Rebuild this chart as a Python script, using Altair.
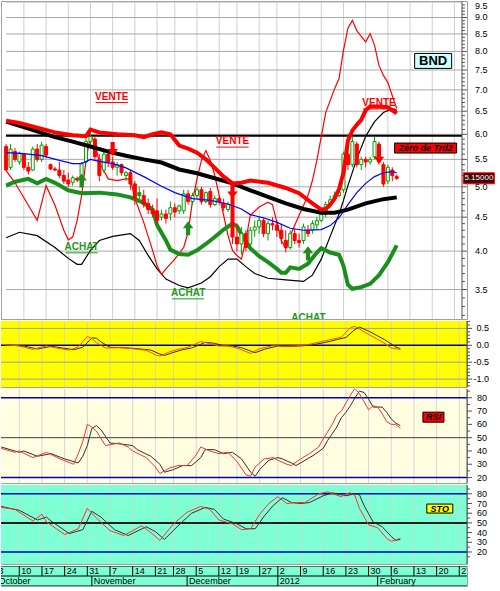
import math
import altair as alt
import pandas as pd

FONT = "Liberation Sans"
RED = "#ff0000"
GREEN_C = "#00a000"
GREEN_L = "#1b8f1b"
BLUE = "#0000ff"

# ---------------- calendar: one slot per trading session, Mon 3 Oct 2011 = slot 0
WEEK_SLOT = [0, 5, 10, 15, 20, 25, 30, 35, 39, 44, 49, 53, 58, 62, 67, 72, 77, 82, 87, 92, 97, 102]
WEEK_DAY = ["3", "10", "17", "24", "31", "7", "14", "21", "28", "5", "12", "19",
            "27", "2", "9", "16", "23", "30", "6", "13", "20", "27"]
MONTH_SLOT = [0, 21, 42, 62, 84]
MONTH_NAME = ["October", "November", "December", "2012", "February"]
X_DOMAIN = [0.97, 103.7]
PANEL_W = 466
PX = PANEL_W / (X_DOMAIN[1] - X_DOMAIN[0])  # pixels per session

# ---------------- daily candles (slot 1 .. 89)
SLOT = list(range(1, 90))
OPEN = [5.75, 5.35, 5.65, 5.45, 5.60, 5.35, 5.30, 5.70, 5.50, 5.75,
        5.40, 5.32, 5.30, 5.20, 5.12, 5.08, 5.15, 5.15, 5.45, 5.85,
        5.90, 5.50, 5.30, 5.60, 5.45, 5.35, 5.40, 5.20, 5.25, 5.05,
        4.90, 4.85, 4.72, 4.62, 4.60, 4.50, 4.55, 4.55, 4.65, 4.60,
        4.60, 4.88, 4.75, 4.85, 4.95, 4.75, 4.92, 4.70, 4.80, 4.72,
        4.62, 4.85, 4.20, 4.10, 4.25, 4.10, 4.30, 4.35, 4.45, 4.25,
        4.40, 4.38, 4.30, 4.15, 4.05, 4.25, 4.15, 4.15, 4.30, 4.30,
        4.38, 4.45, 4.55, 4.70, 4.80, 4.85, 4.95, 5.60, 5.40, 5.80,
        5.40, 5.50, 5.45, 5.55, 5.80, 5.40, 5.10, 5.30, 5.18]
HIGH = [5.80, 5.80, 5.72, 5.65, 5.62, 5.45, 5.75, 5.80, 5.85, 5.80,
        5.42, 5.36, 5.45, 5.30, 5.25, 5.20, 5.18, 5.45, 5.92, 6.05,
        5.95, 5.60, 5.70, 5.65, 5.55, 5.45, 5.42, 5.28, 5.30, 5.10,
        5.00, 4.95, 4.80, 4.70, 4.80, 4.62, 4.62, 4.75, 4.72, 4.70,
        4.95, 4.95, 4.90, 5.00, 5.00, 4.92, 4.98, 4.85, 4.85, 4.80,
        4.75, 4.90, 4.40, 4.35, 4.30, 4.35, 4.45, 4.50, 4.48, 4.45,
        4.50, 4.45, 4.40, 4.30, 4.30, 4.32, 4.25, 4.40, 4.38, 4.45,
        4.50, 4.60, 4.75, 4.85, 4.92, 4.95, 5.65, 6.00, 5.95, 5.85,
        5.55, 5.55, 5.55, 5.95, 5.85, 5.45, 5.40, 5.35, 5.22]
LOW = [5.28, 5.30, 5.45, 5.40, 5.30, 5.22, 5.28, 5.45, 5.45, 5.52,
       5.30, 5.28, 5.15, 5.05, 5.00, 5.02, 5.08, 5.12, 5.42, 5.80,
       5.50, 5.10, 5.25, 5.35, 5.30, 5.20, 5.20, 5.10, 4.95, 4.70,
       4.75, 4.65, 4.55, 4.50, 4.40, 4.45, 4.40, 4.45, 4.50, 4.55,
       4.55, 4.70, 4.70, 4.80, 4.70, 4.72, 4.65, 4.68, 4.70, 4.60,
       4.58, 4.10, 4.00, 3.95, 4.00, 4.05, 4.20, 4.25, 4.20, 4.15,
       4.30, 4.20, 4.10, 3.98, 4.02, 4.10, 4.05, 4.10, 4.20, 4.25,
       4.30, 4.42, 4.50, 4.65, 4.75, 4.82, 4.90, 5.30, 5.35, 5.35,
       5.30, 5.35, 5.40, 5.50, 5.40, 5.00, 5.05, 5.10, 5.12]
CLOSE = [5.30, 5.70, 5.50, 5.62, 5.35, 5.28, 5.70, 5.50, 5.78, 5.58,
         5.32, 5.30, 5.20, 5.10, 5.05, 5.16, 5.12, 5.42, 5.85, 5.95,
         5.55, 5.20, 5.60, 5.45, 5.35, 5.40, 5.25, 5.25, 5.05, 4.80,
         4.85, 4.70, 4.62, 4.55, 4.45, 4.55, 4.48, 4.65, 4.58, 4.68,
         4.88, 4.75, 4.85, 4.95, 4.75, 4.90, 4.70, 4.80, 4.75, 4.65,
         4.70, 4.20, 4.10, 4.25, 4.05, 4.30, 4.35, 4.45, 4.25, 4.40,
         4.38, 4.30, 4.18, 4.05, 4.25, 4.15, 4.12, 4.35, 4.25, 4.40,
         4.45, 4.55, 4.70, 4.78, 4.85, 4.90, 5.60, 5.40, 5.85, 5.40,
         5.50, 5.45, 5.50, 5.85, 5.45, 5.05, 5.35, 5.20, 5.15]

# ---------------- price-panel overlays (slot, price)
THICK_RED_S = [1, 4, 8, 12, 16, 19, 20, 22, 26, 30, 32, 34, 36, 38, 40, 42, 44, 46, 48, 50,
               52, 54, 56, 60, 64, 67, 70, 72, 73, 74, 75, 76, 77, 78, 79, 80, 81, 82, 83, 85,
               87, 88, 89]
THICK_RED_V = [6.29, 6.24, 6.14, 6.04, 5.98, 5.96, 6.10, 6.04, 6.00, 5.98, 5.94, 6.00, 6.04, 6.00,
               5.77, 5.71, 5.63, 5.50, 5.34, 5.18, 5.06, 5.07, 5.11, 5.07, 4.98, 4.89, 4.72, 4.62,
               4.63, 4.70, 4.80, 4.96, 5.25, 5.87, 6.08, 6.20, 6.31, 6.52, 6.61, 6.61, 6.59, 6.52,
               6.45]
THICK_BLK_S = [1, 8, 12, 16, 20, 24, 28, 32, 36, 40, 44, 48, 52, 56, 60, 64, 68, 72, 75, 78,
               82, 86, 89]
THICK_BLK_V = [6.27, 6.06, 5.94, 5.85, 5.75, 5.65, 5.57, 5.50, 5.44, 5.31, 5.24, 5.15, 5.06,
               4.94, 4.83, 4.72, 4.63, 4.57, 4.57, 4.62, 4.72, 4.79, 4.82]
GREEN_S = [1, 3, 6, 8, 10, 12, 15, 18, 22, 26, 29, 32, 34, 35, 37, 38, 40, 42, 44, 46,
           48, 50, 52, 53, 54, 56, 58, 60, 62, 63, 64, 65, 67, 69, 71, 72, 74, 76, 77, 78,
           79, 81, 83, 85, 87, 89]
GREEN_V = [5.02, 5.09, 5.14, 5.06, 5.14, 5.07, 4.94, 4.89, 4.90, 4.87, 4.82, 4.73, 4.62, 4.38,
           4.15, 4.02, 3.96, 3.95, 4.01, 4.10, 4.20, 4.31, 4.40, 4.36, 4.24, 4.04, 3.93, 3.85,
           3.76, 3.71, 3.71, 3.78, 3.76, 3.83, 3.98, 4.04, 3.98, 3.95, 3.80, 3.56, 3.51, 3.53,
           3.57, 3.68, 3.85, 4.08]
THIN_BLK_S = [1, 4, 8, 12, 15, 17, 18, 20, 22, 25, 29, 31, 33, 35, 37, 40, 42, 45, 47, 49,
              51, 53, 55, 57, 60, 64, 68, 70, 72, 74, 76, 77, 78, 80, 82, 84, 86, 88, 89]
THIN_BLK_V = [4.19, 4.27, 4.22, 4.05, 3.90, 3.82, 3.82, 4.01, 4.15, 4.21, 4.25, 4.15, 3.94, 3.76,
              3.63, 3.55, 3.52, 3.58, 3.66, 3.79, 3.89, 3.89, 3.79, 3.70, 3.64, 3.62, 3.60, 3.68,
              3.89, 4.21, 4.55, 4.77, 5.02, 5.51, 5.96, 6.27, 6.47, 6.56, 6.52]
BLUE_S = [1, 5, 9, 13, 16, 18, 20, 22, 25, 28, 32, 36, 39, 43, 47, 51, 54, 56, 59, 62,
          65, 68, 72, 74, 76, 78, 80, 82, 84, 86, 88, 89]
BLUE_V = [5.63, 5.61, 5.57, 5.48, 5.42, 5.42, 5.50, 5.46, 5.42, 5.34, 5.18, 5.01, 4.90, 4.80,
          4.77, 4.71, 4.63, 4.54, 4.49, 4.42, 4.33, 4.30, 4.31, 4.37, 4.49, 4.70, 4.90, 5.06,
          5.18, 5.25, 5.27, 5.25]
THIN_RED_S = [1, 3, 6, 8, 10, 12, 14, 15, 16, 17, 18, 19, 20, 21, 22, 24, 26, 28, 29, 30,
              32, 34, 35, 36, 37, 39, 41, 42, 43, 44, 45, 46, 47, 48, 49, 50, 51, 52, 53, 54,
              55, 56, 58, 60, 61, 62, 63, 64, 65, 67, 69, 70, 71, 73, 75, 76, 77, 78, 79, 80,
              81, 82, 83, 84, 85, 86, 87, 88, 89]
THIN_RED_V = [5.29, 5.07, 4.69, 4.45, 5.02, 4.69, 4.30, 4.16, 4.20, 4.45, 4.85, 5.48, 5.98, 5.83,
              5.44, 5.14, 5.11, 5.14, 5.14, 4.80, 4.42, 4.01, 3.80, 3.69, 3.76, 3.89, 4.05, 4.27,
              4.77, 5.14, 5.48, 5.67, 5.48, 5.20, 4.85, 4.53, 4.22, 4.01, 3.94, 3.89, 4.15, 4.53,
              4.66, 4.74, 4.70, 4.42, 4.15, 4.04, 4.22, 4.53, 4.85, 5.11, 5.48, 6.47, 7.03, 7.28,
              8.03, 8.67, 8.91, 8.60, 8.43, 8.27, 8.51, 8.17, 7.62, 7.36, 7.18, 6.86, 6.56]
ZERO_TRD2 = 5.97
LAST_PRICE = 5.15

# signals
BUY_S = [18, 42, 69]
BUY_V = [5.11, 4.33, 3.97]
SELL_S = [25, 52, 85]
SELL_V = [5.70, 4.92, 5.55]
VENTE_S = [24.8, 52.0, 85.0]
VENTE_V = [6.84, 5.86, 6.69]
ACHAT_S = [18.0, 42.0, 69.1]
ACHAT_V = [4.06, 3.46, 3.17]

# ---------------- MACD
MACD_RED_S = [1, 5, 8, 10, 11, 14, 16, 18, 20, 21, 22, 24, 27, 30, 33, 35, 36, 38, 40, 42,
              44, 45, 47, 49, 51, 53, 56, 58, 61, 63, 66, 69, 72, 74, 76, 78, 79, 81, 83, 85,
              87, 89]
MACD_RED_V = [0.03, -0.02, -0.12, -0.05, -0.02, -0.10, -0.14, -0.05, 0.26, 0.20, 0.08, -0.08,
              -0.07, -0.10, -0.15, -0.28, -0.32, -0.20, -0.12, -0.07, 0.05, 0.11, 0.05, -0.02,
              -0.02, -0.08, -0.24, -0.10, -0.01, -0.03, -0.02, 0.03, 0.12, 0.18, 0.24, 0.52,
              0.56, 0.40, 0.25, 0.10, -0.08, -0.12]
MACD_BLK_S = [1, 6, 9, 11, 12, 15, 17, 19, 21, 22, 23, 25, 28, 31, 34, 36, 37, 39, 41, 43,
              45, 46, 48, 50, 52, 54, 57, 59, 62, 64, 67, 70, 73, 75, 77, 79, 80, 82, 84, 86,
              88, 89]
MACD_BLK_V = [0.02, -0.02, -0.11, -0.06, -0.03, -0.09, -0.13, -0.06, 0.22, 0.21, 0.10, -0.06,
              -0.07, -0.10, -0.14, -0.26, -0.30, -0.21, -0.13, -0.08, 0.03, 0.09, 0.06, -0.01,
              -0.02, -0.07, -0.22, -0.12, -0.02, -0.03, -0.02, 0.02, 0.10, 0.17, 0.23, 0.47,
              0.54, 0.42, 0.28, 0.13, -0.05, -0.10]

# ---------------- RSI
RSI_RED_S = [1, 4, 5, 8, 11, 14, 17, 18, 19, 20, 21, 22, 24, 27, 29, 30, 33, 35, 36, 38,
             40, 42, 44, 45, 47, 49, 51, 53, 55, 56, 57, 59, 61, 62, 64, 65, 67, 69, 71, 72,
             74, 75, 76, 77, 78, 79, 80, 81, 82, 83, 84, 85, 86, 87, 88, 89]
RSI_RED_V = [42, 39, 40, 35, 39, 34, 30, 38, 47, 60, 58, 55, 44, 46, 43, 40, 35, 28, 23, 27,
             29, 29, 37, 43, 40, 38, 39, 32, 22, 21, 28, 34, 35, 33, 30, 29, 34, 38, 43, 49,
             60, 67, 70, 76, 82, 87, 83, 77, 71, 74, 73, 68, 62, 60, 60, 57]
RSI_BLK_S = [1, 5, 6, 9, 12, 15, 18, 19, 20, 21, 22, 23, 25, 28, 30, 31, 34, 36, 37, 39,
             41, 43, 45, 46, 48, 50, 52, 54, 56, 57, 58, 60, 62, 63, 65, 66, 68, 70, 72, 73,
             75, 76, 77, 78, 79, 80, 81, 82, 83, 84, 85, 86, 87, 88, 89]
RSI_BLK_V = [43, 39, 40, 36, 38, 34, 31, 36, 44, 57, 59, 56, 46, 45, 44, 41, 36, 30, 24, 26,
             29, 29, 35, 41, 41, 38, 39, 34, 24, 21, 26, 33, 35, 34, 31, 29, 33, 37, 42, 48,
             58, 65, 69, 74, 80, 85, 84, 79, 73, 73, 73, 69, 64, 61, 59]

# ---------------- Stochastic
STO_RED_S = [1, 4, 8, 10, 11, 15, 18, 20, 22, 25, 28, 32, 34, 36, 39, 42, 45, 47, 49, 52,
             54, 56, 58, 60, 62, 64, 66, 68, 71, 73, 76, 77, 78, 79, 80, 82, 84, 86, 87, 89]
STO_RED_V = [66, 64, 52, 59, 51, 38, 44, 65, 55, 42, 37, 47, 40, 32, 49, 61, 67, 64, 53, 49,
             43, 44, 59, 70, 77, 70, 71, 71, 80, 82, 77, 80, 81, 78, 65, 48, 45, 34, 31, 34]
STO_BLK_S = [1, 5, 9, 11, 12, 16, 19, 21, 23, 26, 29, 33, 35, 37, 40, 43, 46, 48, 50, 53,
             55, 57, 59, 61, 63, 65, 67, 69, 72, 74, 77, 78, 79, 80, 81, 83, 85, 87, 88, 89]
STO_BLK_V = [67, 63, 53, 56, 52, 39, 43, 62, 56, 43, 37, 46, 41, 33, 47, 60, 66, 64, 54, 49,
             44, 44, 57, 68, 76, 71, 70, 71, 78, 81, 78, 79, 80, 79, 68, 51, 46, 36, 32, 33]

# ---------------- right-hand scales: tick values and their printed labels
PRICE_TICKS = [3.5, 4.0, 4.5, 5.0, 5.5, 6.0, 6.5, 7.0, 7.5, 8.0, 8.5, 9.0]
PRICE_LABELS = ["3.5", "4.0", "4.5", "5.0", "5.5", "6.0", "6.5", "7.0", "7.5", "8.0", "8.5", "9.0"]
PRICE_TOP_TICK = 9.5
PRICE_TOP_LABEL = "9.5"
PRICE_MINOR = [x / 10 for x in range(32, 96) if x % 5]
MACD_TICKS = [0.5, 0.0, -0.5, -1.0]
MACD_LABELS = ["0.5", "0.0", "-0.5", "-1.0"]
MACD_MINOR = [x / 10 for x in range(-12, 8) if x % 5]
OSC_TICKS = [20, 30, 40, 50, 60, 70, 80]
OSC_LABELS = ["20", "30", "40", "50", "60", "70", "80"]
RSI_MINOR = [x for x in range(20, 90, 5) if x % 10]
STO_MINOR = [x for x in range(10, 90, 5) if x % 10]

# ---------------- scales (the price panel is plotted on natural-log prices)
PRICE_DOM = [math.log(3.16), math.log(9.53)]
MACD_DOM = [-1.234, 0.719]
RSI_DOM = [15.9, 86.6]
STO_DOM = [7.6, 89.1]
ROWS_DOM = [0, 2]


def sc(dom):
    return alt.Scale(domain=dom, nice=False, zero=False)


XS = sc(X_DOMAIN)


def xenc(field="slot"):
    return alt.X(f"{field}:Q", scale=XS, axis=None)


def src(df, log):
    """Chart on df whose plotted y field is 'v' (or its log for the price panel)."""
    ch = alt.Chart(df)
    if log:
        return ch.transform_calculate(yv="log(datum.v)"), "yv"
    return ch, "v"


def yenc(field, dom):
    return alt.Y(f"{field}:Q", scale=sc(dom), axis=None)


def backdrop(color, dom):
    df = pd.DataFrame({"x0": [X_DOMAIN[0]], "x1": [X_DOMAIN[1]], "lo": [dom[0]], "hi": [dom[1]]})
    return alt.Chart(df).mark_rect(color=color, opacity=1).encode(
        x=xenc("x0"), x2="x1:Q", y=yenc("lo", dom), y2="hi:Q")


def week_grid(color, dom):
    slots = [s for s in WEEK_SLOT if s > X_DOMAIN[0]]
    df = pd.DataFrame({"slot": slots, "lo": dom[0], "hi": dom[1]})
    return alt.Chart(df).mark_rule(color=color, strokeWidth=1, clip=True).encode(
        x=xenc(), y=yenc("lo", dom), y2="hi:Q")


def level(values, color, width, dom, log=False):
    df = pd.DataFrame({"v": values, "x0": X_DOMAIN[0], "x1": X_DOMAIN[1]})
    ch, f = src(df, log)
    return ch.mark_rule(color=color, strokeWidth=width, clip=True).encode(
        x=xenc("x0"), x2="x1:Q", y=yenc(f, dom))


def curve(slots, vals, color, width, dom, log=False):
    df = pd.DataFrame({"slot": slots, "v": vals})
    ch, f = src(df, log)
    return ch.mark_line(color=color, strokeWidth=width, clip=True).encode(
        x=xenc(), y=yenc(f, dom))


def right_scale(ticks, labels, minor, dom, label_px, log=False):
    """Axis line, major/minor ticks and labels on the right edge of a panel."""
    edge = X_DOMAIN[1]
    out = []
    spine = pd.DataFrame({"slot": [edge], "lo": [dom[0]], "hi": [dom[1]]})
    out.append(alt.Chart(spine).mark_rule(color="#505050", strokeWidth=1).encode(
        x=xenc(), y=yenc("lo", dom), y2="hi:Q"))
    minor_df = pd.DataFrame({"v": minor, "a": edge, "b": edge + 3 / PX})
    ch, f = src(minor_df, log)
    out.append(ch.mark_rule(color="#505050", strokeWidth=1).encode(
        x=xenc("a"), x2="b:Q", y=yenc(f, dom)))
    major_df = pd.DataFrame({"v": ticks, "t": labels, "a": edge, "b": edge + 5 / PX,
                             "lab": edge + (label_px - PANEL_W) / PX})
    ch, f = src(major_df, log)
    out.append(ch.mark_rule(color="#505050", strokeWidth=1).encode(
        x=xenc("a"), x2="b:Q", y=yenc(f, dom)))
    out.append(ch.mark_text(font=FONT, fontSize=9, color="#000000", align="right",
                            baseline="middle").encode(
        x=xenc("lab"), y=yenc(f, dom), text="t:N"))
    return out


def box_path(w, h):
    r = h / w
    return f"M-1,{-r:.4f}L1,{-r:.4f}L1,{r:.4f}L-1,{r:.4f}Z"


def tag(slot, value, text, dom, w, h, fill, stroke, tcolor, size, weight="bold",
        style="normal", log=False):
    df = pd.DataFrame({"slot": [slot], "v": [value], "t": [text]})
    ch, f = src(df, log)
    enc = dict(x=xenc(), y=yenc(f, dom))
    box = ch.mark_point(shape=box_path(w, h), size=w * w, filled=True, fill=fill,
                        stroke=stroke, strokeWidth=1, opacity=1).encode(**enc)
    txt = ch.mark_text(font=FONT, fontSize=size, fontWeight=weight, fontStyle=style,
                       color=tcolor, baseline="middle").encode(text="t:N", **enc)
    return [box, txt]


# ---------------- price panel
candles = pd.DataFrame({"slot": SLOT, "o": OPEN, "h": HIGH, "l": LOW, "c": CLOSE})
prev_close = candles["c"].shift(1).fillna(candles["o"])
candles["ink"] = [GREEN_C if c >= p else RED for c, p in zip(candles["c"], prev_close)]
candles["paint"] = ["#ffffff" if c > o else k
                    for c, o, k in zip(candles["c"], candles["o"], candles["ink"])]
cbase = alt.Chart(candles).transform_calculate(
    lo="log(datum.o)", lh="log(datum.h)", ll="log(datum.l)", lc="log(datum.c)")
wicks = cbase.mark_rule(strokeWidth=1, clip=True).encode(
    x=xenc(), y=yenc("ll", PRICE_DOM), y2="lh:Q",
    color=alt.Color("ink:N", scale=None))
bodies = cbase.mark_bar(size=3, strokeWidth=1, clip=True).encode(
    x=xenc(), y=yenc("lo", PRICE_DOM), y2="lc:Q",
    fill=alt.Fill("paint:N", scale=None),
    stroke=alt.Stroke("ink:N", scale=None))

UP_ARROW = "M-0.3,1L0.3,1L0.3,0L0.75,0L0,-1L-0.75,0L-0.3,0Z"
DOWN_ARROW = "M-0.3,-1L0.3,-1L0.3,0L0.75,0L0,1L-0.75,0L-0.3,0Z"


def arrows(slots, vals, shape, color):
    ch, f = src(pd.DataFrame({"slot": slots, "v": vals}), True)
    return ch.mark_point(shape=shape, filled=True, size=196, color=color, opacity=1).encode(
        x=xenc(), y=yenc(f, PRICE_DOM))


def signal_words(slots, vals, word, color):
    half = 16.5 / PX  # half the printed word width
    df = pd.DataFrame({"slot": slots, "v": vals, "t": [word] * len(slots)})
    df["a"] = df["slot"] - half
    df["b"] = df["slot"] + half
    ch, f = src(df, True)
    txt = ch.mark_text(font=FONT, fontSize=10, fontWeight="bold", color=color,
                       baseline="middle", clip=True).encode(
        x=xenc(), y=yenc(f, PRICE_DOM), text="t:N")
    line = ch.mark_rule(color=color, strokeWidth=1, yOffset=6, clip=True).encode(
        x=xenc("a"), x2="b:Q", y=yenc(f, PRICE_DOM))
    return [txt, line]


top_df = pd.DataFrame({"v": [PRICE_TOP_TICK], "t": [PRICE_TOP_LABEL],
                       "lab": [X_DOMAIN[1] + 26 / PX]})
top_ch, top_f = src(top_df, True)
top_label = top_ch.mark_text(font=FONT, fontSize=9, color="#000000", align="right",
                             baseline="top").encode(
    x=xenc("lab"), y=yenc(top_f, PRICE_DOM), text="t:N")

main = alt.layer(
    week_grid("#cfcfcf", PRICE_DOM),
    level(PRICE_TICKS + [PRICE_TOP_TICK], "#a8a8a8", 1, PRICE_DOM, log=True),
    level([ZERO_TRD2], "#000000", 2, PRICE_DOM, log=True),
    curve(THIN_BLK_S, THIN_BLK_V, "#000000", 1.2, PRICE_DOM, log=True),
    curve(THIN_RED_S, THIN_RED_V, RED, 1.2, PRICE_DOM, log=True),
    curve(GREEN_S, GREEN_V, GREEN_L, 4, PRICE_DOM, log=True),
    wicks, bodies,
    curve(BLUE_S, BLUE_V, BLUE, 1.2, PRICE_DOM, log=True),
    curve(THICK_BLK_S, THICK_BLK_V, "#000000", 4, PRICE_DOM, log=True),
    curve(THICK_RED_S, THICK_RED_V, RED, 4, PRICE_DOM, log=True),
    arrows(BUY_S, BUY_V, UP_ARROW, GREEN_L),
    arrows(SELL_S, SELL_V, DOWN_ARROW, RED),
    *signal_words(VENTE_S, VENTE_V, "VENTE", RED),
    *signal_words(ACHAT_S, ACHAT_V, "ACHAT", "#1a9a1a"),
    *tag(97.2, 7.74, "BND", PRICE_DOM, 37, 15, "#ccffff", "#000000", "#000000", 13, log=True),
    *tag(95.5, 5.72, "Zéro de Trd2", PRICE_DOM, 62, 10, RED, "#000000", "#000000", 9,
         style="italic", log=True),
    *right_scale(PRICE_TICKS, PRICE_LABELS, PRICE_MINOR, PRICE_DOM, 492, log=True),
    top_label,
    *tag(107.5, LAST_PRICE, "5.15000", PRICE_DOM, 31, 11, "#400000", RED, "#ffffff", 8,
         weight="normal", log=True),
).properties(width=PANEL_W, height=318)

# ---------------- MACD panel
macd = alt.layer(
    backdrop("#ffff00", MACD_DOM),
    week_grid("#d8d8a0", MACD_DOM),
    level([0.5, -0.5, -1.0], "#a0a0a0", 1, MACD_DOM),
    level([0.0], "#0000c0", 1.5, MACD_DOM),
    curve(MACD_BLK_S, MACD_BLK_V, "#303030", 1, MACD_DOM),
    curve(MACD_RED_S, MACD_RED_V, "#ff5000", 1, MACD_DOM),
    *right_scale(MACD_TICKS, MACD_LABELS, MACD_MINOR, MACD_DOM, 488),
).properties(width=PANEL_W, height=66)

# ---------------- RSI panel
rsi = alt.layer(
    backdrop("#fffee0", RSI_DOM),
    week_grid("#d6d6d6", RSI_DOM),
    level([80, 20], "#0000c0", 1.5, RSI_DOM),
    level([50], "#404040", 1, RSI_DOM),
    curve(RSI_BLK_S, RSI_BLK_V, "#303030", 1, RSI_DOM),
    curve(RSI_RED_S, RSI_RED_V, "#ff3030", 1, RSI_DOM),
    *tag(96.3, 65.4, "RSI", RSI_DOM, 21, 10, RED, "#000000", "#000000", 9, style="italic"),
    *right_scale(OSC_TICKS, OSC_LABELS, RSI_MINOR, RSI_DOM, 486),
).properties(width=PANEL_W, height=94)

# ---------------- Stochastic panel
sto = alt.layer(
    backdrop("#7fffd4", STO_DOM),
    week_grid("#c0dcd0", STO_DOM),
    level([80, 20], "#0000c0", 1.5, STO_DOM),
    level([50], "#202020", 2, STO_DOM),
    curve(STO_BLK_S, STO_BLK_V, "#303030", 1, STO_DOM),
    curve(STO_RED_S, STO_RED_V, "#ff3030", 1, STO_DOM),
    *tag(97.7, 64.8, "STO", STO_DOM, 26, 9, "#ffff00", "#000000", "#000000", 9, style="italic"),
    *right_scale(OSC_TICKS, OSC_LABELS, STO_MINOR, STO_DOM, 486),
).properties(width=PANEL_W, height=79)

# ---------------- calendar strip
weeks = pd.DataFrame({"slot": WEEK_SLOT, "t": WEEK_DAY, "lo": 1.0, "hi": 2.0, "mid": 1.5})
months = pd.DataFrame({"slot": MONTH_SLOT, "t": MONTH_NAME, "lo": 0.0, "hi": 1.0, "mid": 0.5})
week_seps = weeks[weeks["slot"] > X_DOMAIN[0]]
month_seps = months[months["slot"] > X_DOMAIN[0]]
strip = alt.layer(
    backdrop("#7fffd4", ROWS_DOM),
    level([0, 1, 2], "#000000", 1, ROWS_DOM),
    alt.Chart(week_seps).mark_rule(color="#000000", strokeWidth=1, clip=True).encode(
        x=xenc(), y=yenc("lo", ROWS_DOM), y2="hi:Q"),
    alt.Chart(month_seps).mark_rule(color="#000000", strokeWidth=1, clip=True).encode(
        x=xenc(), y=yenc("lo", ROWS_DOM), y2="hi:Q"),
    alt.Chart(weeks).mark_text(font=FONT, fontSize=9, align="left", dx=2, baseline="middle",
                               color="#000000", clip=True).encode(
        x=xenc(), y=yenc("mid", ROWS_DOM), text="t:N"),
    alt.Chart(months).mark_text(font=FONT, fontSize=9, align="left", dx=2, baseline="middle",
                                color="#000000", clip=True).encode(
        x=xenc(), y=yenc("mid", ROWS_DOM), text="t:N"),
).properties(width=PANEL_W, height=20)

chart = alt.vconcat(main, macd, rsi, sto, strip, spacing=0).properties(
    padding={"left": 0, "top": 0, "right": 0, "bottom": 6},
    background="#ffffff",
).configure_view(stroke="#a0a0a0")

chart.save("out.html", embed_options={"renderer": "svg", "actions": False})
